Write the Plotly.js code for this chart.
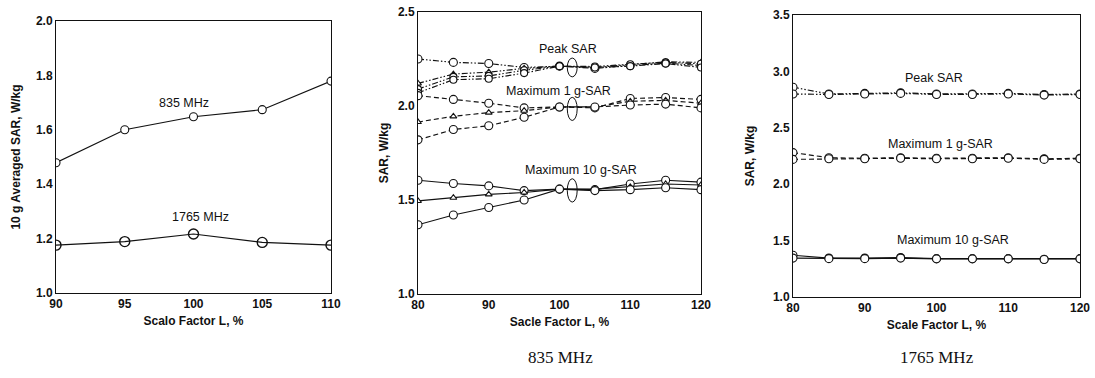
<!DOCTYPE html>
<html>
<head>
<meta charset="utf-8">
<script src="https://cdn.plot.ly/plotly-3.0.1.min.js"></script>
<style>
html,body{margin:0;padding:0;background:#fff;}
#chart{width:1095px;height:378px;}
</style>
</head>
<body>
<div id="chart"></div>
<script>
// ---------- Data ----------
// Panel 1: 10 g averaged SAR vs scale factor
const scale1 = [90, 95, 100, 105, 110];
const sar10g_835 = [1.479, 1.600, 1.648, 1.674, 1.779];
const sar10g_1765 = [1.176, 1.189, 1.217, 1.186, 1.176];

// Panel 2: 835 MHz
const scale2 = [80, 85, 90, 95, 100, 105, 110, 115, 120];
const peak835_a = [2.250, 2.232, 2.226, 2.205, 2.212, 2.200, 2.215, 2.228, 2.215];
const peak835_b = [2.120, 2.170, 2.180, 2.200, 2.212, 2.205, 2.220, 2.235, 2.232];
const peak835_c = [2.090, 2.155, 2.160, 2.190, 2.212, 2.210, 2.222, 2.232, 2.225];
const peak835_d = [2.070, 2.140, 2.145, 2.175, 2.212, 2.205, 2.212, 2.226, 2.205];
const g1_835_a = [2.055, 2.035, 2.015, 1.990, 1.995, 1.990, 2.040, 2.045, 2.035];
const g1_835_b = [1.915, 1.945, 1.965, 1.975, 1.995, 1.995, 2.025, 2.030, 2.015];
const g1_835_c = [1.820, 1.875, 1.895, 1.940, 1.995, 1.995, 2.005, 2.010, 1.990];
const g10_835_a = [1.605, 1.588, 1.575, 1.550, 1.558, 1.555, 1.585, 1.605, 1.595];
const g10_835_b = [1.495, 1.512, 1.530, 1.540, 1.558, 1.558, 1.570, 1.585, 1.580];
const g10_835_c = [1.368, 1.420, 1.460, 1.500, 1.558, 1.550, 1.555, 1.565, 1.555];

// Panel 3: 1765 MHz
const scale3 = [80, 85, 90, 95, 100, 105, 110, 115, 120];
const peak1765_a = [2.860, 2.800, 2.805, 2.810, 2.800, 2.800, 2.805, 2.795, 2.800];
const peak1765_b = [2.800, 2.795, 2.800, 2.805, 2.795, 2.795, 2.800, 2.790, 2.795];
const g1_1765_a = [2.280, 2.235, 2.230, 2.235, 2.230, 2.230, 2.235, 2.225, 2.230];
const g1_1765_b = [2.220, 2.225, 2.225, 2.230, 2.225, 2.225, 2.230, 2.220, 2.225];
const g10_1765_a = [1.370, 1.345, 1.345, 1.350, 1.340, 1.340, 1.340, 1.335, 1.340];
const g10_1765_b = [1.345, 1.340, 1.340, 1.345, 1.338, 1.338, 1.338, 1.333, 1.338];

// Labels
const labels1 = ["835 MHz", "1765 MHz"];
const labels835 = ["Peak SAR", "Maximum 1 g-SAR", "Maximum 10 g-SAR"];
const labels1765 = ["Peak SAR", "Maximum 1 g-SAR", "Maximum 10 g-SAR"];
const captions = ["835 MHz", "1765 MHz"];

// ---------- Styles ----------
const INK = '#111';
const DASHDOT = '6px,2px,1.5px,2px,1.5px,2px';
const DASH = '5px,3px';
const LW = 1.15;
function tr(x, y, xa, ya, dash, sym, size, fill) {
  return {
    x: x, y: y, xaxis: xa, yaxis: ya, type: 'scatter', mode: 'lines+markers',
    showlegend: false, hoverinfo: 'skip',
    line: {color: INK, width: LW, dash: dash},
    marker: {symbol: sym, size: size, color: fill || '#fff', line: {color: INK, width: 1.1}}
  };
}

const traces = [
  tr(scale1, sar10g_835, 'x', 'y', 'solid', 'circle', 8),
  {x: scale1, y: sar10g_1765, xaxis: 'x', yaxis: 'y', type: 'scatter', mode: 'lines+markers',
   showlegend: false, hoverinfo: 'skip', line: {color: INK, width: LW},
   marker: {symbol: 'circle-open', size: 10, color: INK, line: {color: INK, width: 1.4}}},

  tr(scale2, peak835_a, 'x2', 'y2', DASHDOT, 'circle', 8),
  tr(scale2, peak835_b, 'x2', 'y2', DASHDOT, 'triangle-up', 6),
  tr(scale2, peak835_c, 'x2', 'y2', DASHDOT, 'circle', 7),
  tr(scale2, peak835_d, 'x2', 'y2', DASHDOT, 'circle', 7),
  tr(scale2, g1_835_a, 'x2', 'y2', DASH, 'circle', 8),
  tr(scale2, g1_835_b, 'x2', 'y2', DASH, 'triangle-up', 6),
  tr(scale2, g1_835_c, 'x2', 'y2', DASH, 'circle', 8),
  tr(scale2, g10_835_a, 'x2', 'y2', 'solid', 'circle', 8),
  tr(scale2, g10_835_b, 'x2', 'y2', 'solid', 'triangle-up', 6),
  tr(scale2, g10_835_c, 'x2', 'y2', 'solid', 'circle', 8),

  tr(scale3, peak1765_a, 'x3', 'y3', DASHDOT, 'circle', 8),
  tr(scale3, peak1765_b, 'x3', 'y3', DASHDOT, 'circle', 8),
  tr(scale3, g1_1765_a, 'x3', 'y3', DASH, 'circle', 8),
  tr(scale3, g1_1765_b, 'x3', 'y3', DASH, 'circle', 8),
  tr(scale3, g10_1765_a, 'x3', 'y3', 'solid', 'circle', 8),
  tr(scale3, g10_1765_b, 'x3', 'y3', 'solid', 'circle', 8)
];

const W = 1095, H = 378;
const SANS = 'Liberation Sans, Arial, sans-serif';
const TICKFONT = {family: SANS, size: 12, color: INK, weight: 'bold'};
const TITLEFONT = {family: SANS, size: 12, color: INK, weight: 'bold'};
function xax(dom, range, tv, title, anchor) {
  return {domain: dom, range: range, tickvals: tv, anchor: anchor, showgrid: false, zeroline: false,
    showline: true, linecolor: INK, linewidth: 1, mirror: true, ticks: '',
    tickfont: TICKFONT, title: {text: title, font: TITLEFONT, standoff: 6}, fixedrange: true};
}
function yax(dom, range, tv, title, anchor, so) {
  return {domain: dom, range: range, tickvals: tv, tickformat: '.1f', anchor: anchor, showgrid: false, zeroline: false,
    showline: true, linecolor: INK, linewidth: 1, mirror: true, ticks: '',
    tickfont: TICKFONT, title: {text: title, font: TITLEFONT, standoff: so}, fixedrange: true};
}
function px2x(a, b) { return [a / W, b / W]; }
function px2y(top, bot) { return [1 - bot / H, 1 - top / H]; }

function ann(text, x, y, xr, yr, size) {
  return {text: text, x: x, y: y, xref: xr, yref: yr, showarrow: false,
    font: {family: SANS, size: size, color: INK}, xanchor: 'center', yanchor: 'middle'};
}
const CAPFONT = {family: 'Liberation Serif, Times New Roman, serif', size: 17, color: INK};

const layout = {
  width: W, height: H, margin: {l: 0, r: 0, t: 0, b: 0}, paper_bgcolor: '#fff', plot_bgcolor: '#fff',
  showlegend: false,
  xaxis: xax(px2x(56, 331), [90, 110], [90, 95, 100, 105, 110], 'Scalo Factor L, %', 'y'),
  yaxis: yax(px2y(21, 293), [1.0, 2.0], [1.0, 1.2, 1.4, 1.6, 1.8, 2.0], '10 g Averaged SAR, W/kg', 'x', 12),
  xaxis2: xax(px2x(418, 701), [80, 120], [80, 90, 100, 110, 120], 'Sacle Factor L, %', 'y2'),
  yaxis2: yax(px2y(12, 294), [1.0, 2.5], [1.0, 1.5, 2.0, 2.5], 'SAR, W/kg', 'x2', 6),
  xaxis3: xax(px2x(793, 1080), [80, 120], [80, 90, 100, 110, 120], 'Scale Factor L, %', 'y3'),
  yaxis3: yax(px2y(15, 297), [1.0, 3.5], [1.0, 1.5, 2.0, 2.5, 3.0, 3.5], 'SAR, W/kg', 'x3', 15),
  annotations: [
    ann(labels1[0], 99.3, 1.697, 'x', 'y', 12.5),
    ann(labels1[1], 100.5, 1.28, 'x', 'y', 12.5),
    ann(labels835[0], 101.2, 2.302, 'x2', 'y2', 12.5),
    ann(labels835[1], 99.8, 2.081, 'x2', 'y2', 12.5),
    ann(labels835[2], 103.0, 1.657, 'x2', 'y2', 12.5),
    ann(labels1765[0], 99.6, 2.938, 'x3', 'y3', 12.5),
    ann(labels1765[1], 100.6, 2.355, 'x3', 'y3', 12.5),
    ann(labels1765[2], 102.3, 1.509, 'x3', 'y3', 12.5),
    {text: captions[0], x: 560 / W, y: 1 - 357 / H, xref: 'paper', yref: 'paper', showarrow: false, font: CAPFONT, xanchor: 'center', yanchor: 'middle'},
    {text: captions[1], x: 937 / W, y: 1 - 357 / H, xref: 'paper', yref: 'paper', showarrow: false, font: CAPFONT, xanchor: 'center', yanchor: 'middle'}
  ],
  shapes: [
    {type: 'circle', xref: 'x2', yref: 'y2', x0: 101.1, x1: 102.5, y0: 2.155, y1: 2.255, line: {color: INK, width: 1}, layer: 'above'},
    {type: 'circle', xref: 'x2', yref: 'y2', x0: 101.1, x1: 102.5, y0: 1.923, y1: 2.046, line: {color: INK, width: 1}, layer: 'above'},
    {type: 'circle', xref: 'x2', yref: 'y2', x0: 101.1, x1: 102.5, y0: 1.489, y1: 1.613, line: {color: INK, width: 1}, layer: 'above'}
  ]
};

Plotly.newPlot('chart', traces, layout, {staticPlot: true, displayModeBar: false});
</script>
</body>
</html>
